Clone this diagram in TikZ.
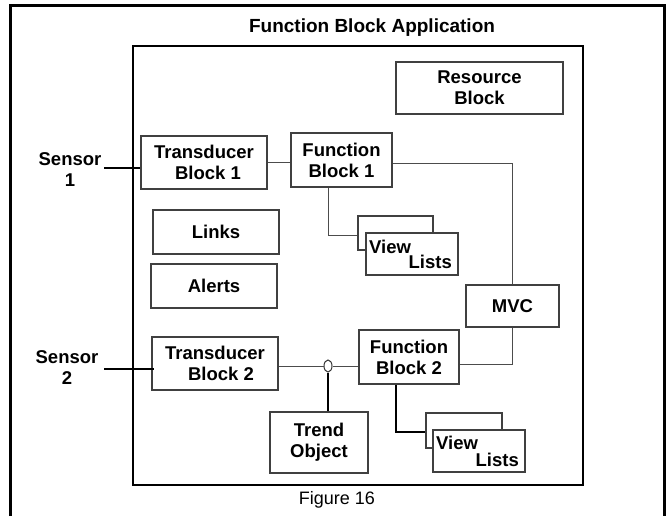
\documentclass[tikz,border=0pt]{standalone}
\usepackage{fontspec}
\setmainfont{Liberation Sans}
\usetikzlibrary{calc,shapes.geometric}
\begin{document}
\begin{tikzpicture}[x=1pt,y=-1pt,
  box/.style={draw=black!75, line width=1.2pt, fill=white, inner sep=0pt, align=center,
              font=\bfseries\fontsize{18.5}{21}\selectfont},
  lbl/.style={inner sep=0pt, align=center, font=\bfseries\fontsize{18.5}{21}\selectfont},
  thinline/.style={draw=black!70, line width=1pt},
  thickline/.style={draw=black, line width=2pt}]
\useasboundingbox (0,0) rectangle (668,516);

% outer frame (open at the bottom)
\draw[line width=3pt] (10,516) -- (10,6) -- (664,6) -- (664,516);
\node[lbl, font=\bfseries\fontsize{19}{21}\selectfont] (title) at (372,28) {Function Block Application};

% inner application box
\node[draw, line width=2pt, minimum width=450, minimum height=439, inner sep=0pt] (app) at (358,265.5) {};

% boxes
\node[box, minimum width=167, minimum height=52] (res) at (479.5,88) {Resource\\Block};
\node[box, minimum width=126, minimum height=53] (tb1) at (204,162.5) {Transducer\\\hspace*{8pt}Block 1};
\node[box, minimum width=101, minimum height=54] (fb1) at (341.5,160) {Function\\Block 1};
\node[box, minimum width=126, minimum height=44] (links) at (216,232) {Links};
\node[box, minimum width=126, minimum height=44] (alerts) at (214,286) {Alerts};
\node[box, minimum width=93, minimum height=42] (mvc) at (512.5,306) {MVC};
\node[box, minimum width=126, minimum height=53] (tb2) at (215,363.5) {Transducer\\\hspace*{12pt}Block 2};
\node[box, minimum width=100, minimum height=54] (fb2) at (409,357) {Function\\Block 2};
\node[box, minimum width=98, minimum height=61] (trend) at (319,442.5) {Trend\\Object};

% view lists 1
\node[box, minimum width=75, minimum height=34] (vl1b) at (395.5,233) {};
\node[box, minimum width=92, minimum height=42] (vl1f) at (412,254) {};
\node[lbl, anchor=west] (vl1v) at (369,247) {View};
\node[lbl, anchor=east] (vl1l) at (452,262) {Lists};

% view lists 2
\node[box, minimum width=76, minimum height=35] (vl2b) at (464,430.5) {};
\node[box, minimum width=92, minimum height=42] (vl2f) at (479,451) {};
\node[lbl, anchor=west] (vl2v) at (436,443) {View};
\node[lbl, anchor=east] (vl2l) at (519,460) {Lists};

% sensors
\node[lbl] (sensor1) at (70,169.5) {Sensor\\1};
\node[lbl] (sensor2) at (67,367.5) {Sensor\\2};
\coordinate (s1) at (104,168);
\coordinate (s2) at (104,369);
\draw[thickline] (s1) -- (s1 -| tb1.west);
\draw[thickline] (s2) -- ([xshift=3pt]s2 -| tb2.west);

% trend tap
\node[draw=black!80, line width=1pt, ellipse, inner sep=0pt, minimum width=8, minimum height=12, fill=white] (tap) at (328,366) {};

% connectors
\draw[thinline] (tb1.east) -- (tb1.east -| fb1.west);
\draw[thinline] ([yshift=-3pt]fb1.east) -| (mvc.north);
\draw[thinline] ([xshift=-13.5pt]fb1.south) |- ([yshift=-2pt]vl1b.west);
\draw[thinline] (tb2.east |- tap.west) -- (tap.west);
\draw[thinline] (tap.east) -- (tap.east -| fb2.west);
\draw[thickline] (tap.south) -- (tap.south |- trend.north);
\draw[thinline] ([yshift=-7pt]fb2.east) -| (mvc.south);
\draw[thickline] ([xshift=-13pt]fb2.south) |- ([yshift=-1.5pt]vl2b.west);

\node[inner sep=0pt, font=\fontsize{18}{21}\selectfont] (fig) at (337,500) {Figure 16};
\end{tikzpicture}
\end{document}
